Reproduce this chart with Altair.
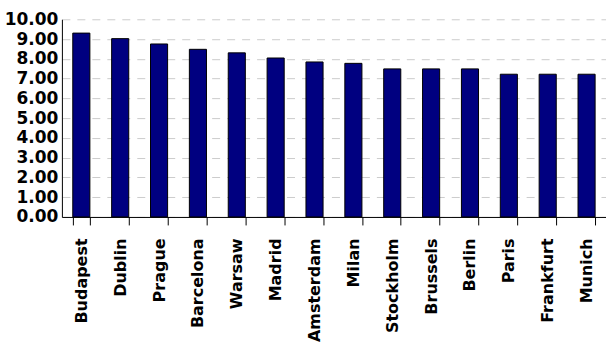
import altair as alt
import pandas as pd

cities = ["Budapest", "Dublin", "Prague", "Barcelona", "Warsaw", "Madrid", "Amsterdam",
          "Milan", "Stockholm", "Brussels", "Berlin", "Paris", "Frankfurt", "Munich"]
values = [9.30, 9.02, 8.75, 8.48, 8.30, 8.04, 7.84, 7.77, 7.49, 7.49, 7.49, 7.22, 7.22, 7.22]
y_ticks = [0, 1, 2, 3, 4, 5, 6, 7, 8, 9, 10]

df = pd.DataFrame({"city": cities, "value": values})

chart = alt.Chart(df).mark_bar(
    color="#000080", stroke="#000000", strokeWidth=1
).encode(
    x=alt.X("city:N", sort=cities, title=None,
            scale=alt.Scale(paddingInner=0.56, paddingOuter=0.28),
            axis=alt.Axis(labelAngle=270, labelAlign="right", labelBaseline="middle",
                          labelFont="DejaVu Sans", labelFontSize=16,
                          tickBand="extent", tickSize=8, tickColor="#000000",
                          labelPadding=13, grid=False, labelLimit=200)),
    y=alt.Y("value:Q", title=None,
            scale=alt.Scale(domain=[0, 10], nice=False),
            axis=alt.Axis(values=y_ticks, format=".2f",
                          labelFont="DejaVu Sans", labelFontSize=17,
                          tickSize=0, labelPadding=4,
                          grid=True, gridColor="#cccccc", gridDash=[8, 7],
                          labelBaseline="middle"))
).properties(
    width=545, height=198,
    padding={"left": 62, "top": 19, "right": 0, "bottom": 146},
    autosize=alt.AutoSizeParams(type="none")
).configure_view(stroke=None).configure_axis(
    domainWidth=1, domainColor="#000000", labelColor="#000000",
    labelFontWeight="bold"
)

chart.save("out.html", embed_options={"renderer": "svg", "actions": False})
